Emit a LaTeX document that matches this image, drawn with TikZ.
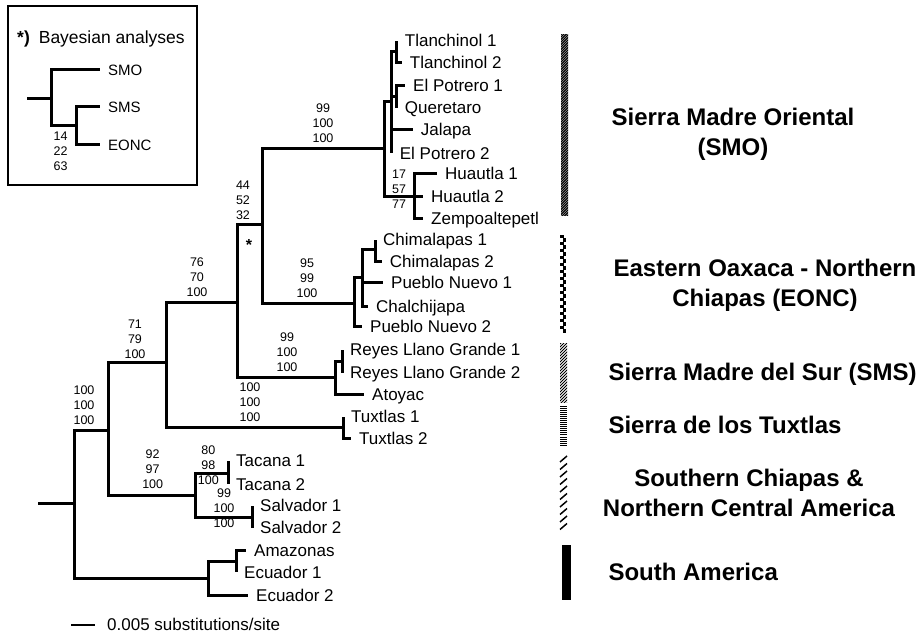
\documentclass[tikz,border=0pt]{standalone}
\usepackage{fontspec}
\setmainfont{Liberation Sans}
\usetikzlibrary{positioning}

\begin{document}
\begin{tikzpicture}[
  x=1pt, y=-1pt,
  limb/.style={line width=3pt},
  taxon/.style={anchor=west, inner xsep=8pt, inner ysep=0pt,
    text height=12pt, text depth=0pt, font=\fontsize{17}{20}\selectfont},
  support/.style={align=center, inner sep=0pt, font=\fontsize{12.5}{15}\selectfont},
  region/.style={inner sep=0pt, font=\fontsize{24}{30}\selectfont\bfseries},
  regionline/.style={region, anchor=west, text height=17.2pt, text depth=0pt},
  regionblock/.style={region, align=center},
  insettaxon/.style={taxon, font=\fontsize{15}{18}\selectfont, text height=10.7pt}
]
\useasboundingbox (0,0) rectangle (919,636);

% internal nodes of the tree
\coordinate (stub) at (38,503.3);
\coordinate (R)  at (74,503.3);
\coordinate (A)  at (108,431);
\coordinate (B)  at (166,363);
\coordinate (C)  at (237,303);
\coordinate (D)  at (262,225);
\coordinate (E)  at (384,149);
\coordinate (F)  at (391.7,101.7);
\coordinate (TL) at (396.7,51.7);
\coordinate (EP) at (396.7,97);
\coordinate (H)  at (414,196.7);
\coordinate (I)  at (354,304);
\coordinate (J)  at (362,278);
\coordinate (K)  at (375,250);
\coordinate (L)  at (335,378);
\coordinate (M)  at (342,362);
\coordinate (T)  at (343,428);
\coordinate (N)  at (195,495);
\coordinate (P)  at (228,473);
\coordinate (Q)  at (252,517);
\coordinate (SA) at (208,578);
\coordinate (Z)  at (236,561);

% taxa
\node[taxon] (tl1)  at (396.7,40.7)  {Tlanchinol 1};
\node[taxon] (tl2)  at (401.7,62.7)  {Tlanchinol 2};
\node[taxon] (ep1)  at (405,86)      {El Potrero 1};
\node[taxon] (que)  at (396.7,108)   {Queretaro};
\node[taxon] (jal)  at (412.7,130)   {Jalapa};
\node[taxon] (ep2)  at (391.7,153.3) {El Potrero 2};
\node[taxon] (hu1)  at (437,174)     {Huautla 1};
\node[taxon] (hu2)  at (423,197)     {Huautla 2};
\node[taxon] (zem)  at (423,219)     {Zempoaltepetl};
\node[taxon] (ch1)  at (375,240)     {Chimalapas 1};
\node[taxon] (ch2)  at (381.7,261.7) {Chimalapas 2};
\node[taxon] (pn1)  at (383,283)     {Pueblo Nuevo 1};
\node[taxon] (chal) at (368,306.7)   {Chalchijapa};
\node[taxon] (pn2)  at (362,327)     {Pueblo Nuevo 2};
\node[taxon] (rl1)  at (342,350)     {Reyes Llano Grande 1};
\node[taxon] (rl2)  at (342,373)     {Reyes Llano Grande 2};
\node[taxon] (ato)  at (364,395)     {Atoyac};
\node[taxon] (tx1)  at (343,417)     {Tuxtlas 1};
\node[taxon] (tx2)  at (351,438)     {Tuxtlas 2};
\node[taxon] (ta1)  at (228,461)     {Tacana 1};
\node[taxon] (ta2)  at (228,484)     {Tacana 2};
\node[taxon] (sa1)  at (252,505.5)   {Salvador 1};
\node[taxon] (sa2)  at (252,527.7)   {Salvador 2};
\node[taxon] (ama)  at (246,550)     {Amazonas};
\node[taxon] (ec1)  at (236,572)     {Ecuador 1};
\node[taxon] (ec2)  at (248,595)     {Ecuador 2};

% branches
\draw[limb] (stub) -- (R);
\foreach \p/\q in {R/A, R/SA, A/B, A/N, B/C, B/T, C/D, C/L, D/E, D/I,
    E/F, E/H, F/TL, F/EP, I/J, J/K, L/M, N/P, N/Q, SA/Z}
  \draw[limb] (\p) -- (\p |- \q) -- (\q);
\foreach \p/\q in {TL/tl1, TL/tl2, EP/ep1, EP/que, F/jal, F/ep2,
    H/hu1, H/hu2, H/zem, K/ch1, K/ch2, J/pn1, J/chal, I/pn2,
    M/rl1, M/rl2, L/ato, T/tx1, T/tx2, P/ta1, P/ta2, Q/sa1, Q/sa2,
    Z/ama, Z/ec1, SA/ec2}
  \draw[limb] (\p) -- (\p |- \q.west) -- (\q.west);

% support values
\node[support] (bsA) at (84,405)    {100\\100\\100};
\node[support] (bsB) at (135,339)   {71\\79\\100};
\node[support] (bsC) at (197,277)   {76\\70\\100};
\node[support] (bsD) at (243,200)   {44\\52\\32};
\node[support] (bsE) at (323,123)   {99\\100\\100};
\node[support] (bsI) at (307,278)   {95\\99\\100};
\node[support] (bsL) at (287,352)   {99\\100\\100};
\node[support] (bsT) at (250,402)   {100\\100\\100};
\node[support] (bsH) at (399,189)   {17\\57\\77};
\node[support] (bsN) at (152.7,469) {92\\97\\100};
\node[support] (bsP) at (208.3,465) {80\\98\\100};
\node[support] (bsQ) at (224,508)   {99\\100\\100};
\node[font=\fontsize{16}{16}\selectfont\bfseries, inner sep=0pt] (star) at (249,245) {*};

% region bars
\begin{scope}
  \clip (561,35) rectangle (568,216);
  \foreach \y in {30,32.5,...,230}
    \draw[line width=1.2pt] (558,\y) -- (571,\y-13);
\end{scope}
\foreach \y in {235,242,...,330} {
  \fill (560,\y) rectangle (563.5,\y+3.5);
  \fill (562.5,\y+3.5) rectangle (566,\y+7);
}
\begin{scope}
  \clip (560,344) rectangle (567,403);
  \foreach \y in {340,343,...,412}
    \draw[line width=0.8pt] (558,\y) -- (569,\y-11);
\end{scope}
\foreach \y in {407,409,...,445}
  \draw[line width=1pt] (560,\y) -- (567,\y);
\foreach \y in {456,463.5,...,526}
  \draw[line width=1.5pt] (560,\y+6) -- (567,\y);
\fill (562,545) rectangle (570.5,600);

% region names
\node[regionblock] (rSMO) at (733,134.3) {Sierra Madre Oriental\\(SMO)};
\node[regionblock] (rEONC) at (765,285.6) {Eastern Oaxaca - Northern\\Chiapas (EONC)};
\node[regionline] (rSMS) at (608.3,371.7) {Sierra Madre del Sur (SMS)};
\node[regionline] (rTux) at (608.3,425) {Sierra de los Tuxtlas};
\node[regionblock] (rSCh) at (749,493.3) {Southern Chiapas \&\\Northern Central America};
\node[regionline] (rSAm) at (608.3,571.7) {South America};

% scale bar
\coordinate (sb1) at (71,625);
\coordinate (sb2) at (95,625);
\draw[line width=2.2pt] (sb1) -- (sb2);
\node[anchor=west, inner sep=0pt, font=\fontsize{17}{18}\selectfont] (sbtxt) at (107,624) {0.005 substitutions/site};

% inset: Bayesian analyses
\draw[line width=1.3pt] (8,6) rectangle (197,185);
\node[anchor=west, inner sep=0pt, font=\fontsize{17.5}{18}\selectfont] (btitle) at (17,39) {\textbf{*)}\hspace{9pt}Bayesian analyses};
\coordinate (istub) at (27,99);
\coordinate (iR) at (51,99);
\coordinate (iX) at (76,126);
\node[insettaxon] (ismo)  at (100,70)  {SMO};
\node[insettaxon] (isms)  at (100,107) {SMS};
\node[insettaxon] (ieonc) at (100,145) {EONC};
\draw[limb] (istub) -- (iR);
\draw[limb] (iR) -- (iR |- ismo.west) -- (ismo.west);
\draw[limb] (iR) -- (iR |- iX) -- (iX);
\draw[limb] (iX) -- (iX |- isms.west) -- (isms.west);
\draw[limb] (iX) -- (iX |- ieonc.west) -- (ieonc.west);
\node[support] (ibs) at (60.7,151.7) {14\\22\\63};
\end{tikzpicture}
\end{document}
